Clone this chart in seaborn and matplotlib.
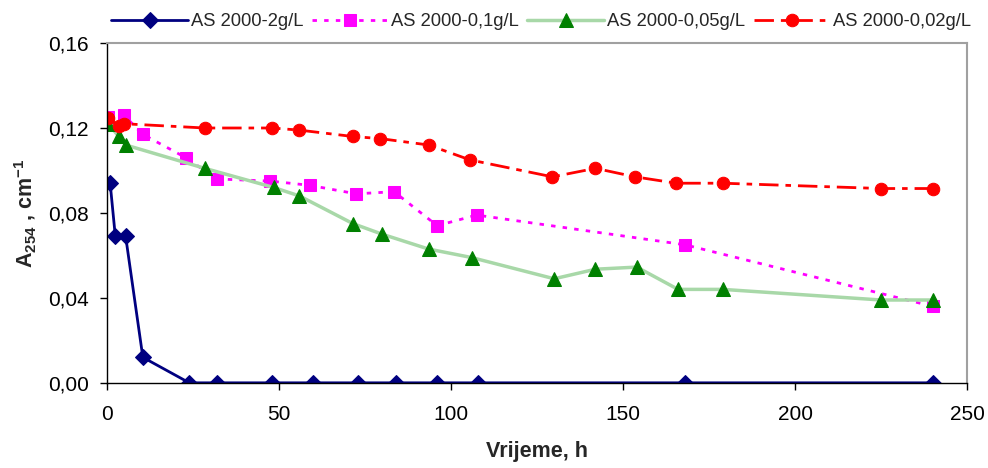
#!/usr/bin/env python3

import pandas as pd
import seaborn as sns
import matplotlib.pyplot as plt
from matplotlib.ticker import FuncFormatter

# AS 2000-2g/L
t_2 = [1, 2.5, 5.5, 10.5, 24, 32, 48, 60, 73, 84, 96, 108, 168, 240]
a_2 = [0.094, 0.069, 0.069, 0.012, 0.0, 0.0, 0.0, 0.0, 0.0, 0.0, 0.0, 0.0, 0.0, 0.0]

# AS 2000-0,1g/L
t_01 = [0.5, 5, 10.5, 23, 32, 47.5, 59, 72.5, 83.5, 96, 107.5, 168, 240]
a_01 = [0.125, 0.126, 0.117, 0.106, 0.096, 0.095, 0.093, 0.089, 0.090, 0.074, 0.079, 0.065, 0.036]

# AS 2000-0,05g/L
t_005 = [0.5, 3.5, 5.5, 28.5, 48.5, 56, 71.5, 80, 93.5, 106, 130, 142, 154, 166, 179, 225, 240]
a_005 = [0.122, 0.116, 0.112, 0.101, 0.092, 0.088, 0.075, 0.070, 0.063, 0.059,
         0.049, 0.0535, 0.0545, 0.044, 0.044, 0.039, 0.039]

# AS 2000-0,02g/L
t_002 = [0.5, 3.5, 5, 28.5, 48, 56, 71.5, 79.5, 93.5, 105.5, 129.5, 142, 153.5, 165.5, 179, 225, 240]
a_002 = [0.1245, 0.121, 0.122, 0.120, 0.120, 0.119, 0.116, 0.115, 0.112, 0.105,
         0.097, 0.101, 0.097, 0.094, 0.094, 0.0915, 0.0915]

sns.set_style("white")
plt.rcParams['font.family'] = ['Liberation Sans', 'DejaVu Sans']
plt.rcParams['mathtext.default'] = 'regular'

fig = plt.figure(figsize=(9.88, 4.68), dpi=100)
ax = fig.add_axes([0.108, 0.182, 0.871, 0.726])

sns.lineplot(x=t_2, y=a_2, ax=ax, color="#000080", lw=2, marker="D", markersize=8,
             markeredgecolor="#000080", markerfacecolor="#000080",
             errorbar=None, label="AS 2000-2g/L")
sns.lineplot(x=t_01, y=a_01, ax=ax, color="#ff00ff", lw=2, dashes=(1.6, 2.6), marker="s",
             markersize=9, markeredgecolor="#ff00ff", markerfacecolor="#ff00ff",
             errorbar=None, label="AS 2000-0,1g/L")
sns.lineplot(x=t_005, y=a_005, ax=ax, color="#a8d8a8", lw=2.5, marker="^", markersize=10,
             markeredgecolor="#008000", markerfacecolor="#008000",
             errorbar=None, label="AS 2000-0,05g/L")
sns.lineplot(x=t_002, y=a_002, ax=ax, color="#ff0000", lw=2, dashes=(7, 2.5, 2, 2.5), marker="o",
             markersize=9, markeredgecolor="#ff0000", markerfacecolor="#ff0000",
             errorbar=None, label="AS 2000-0,02g/L")

ax.set_xlim(0, 250)
ax.set_ylim(0, 0.16)
ax.set_xticks([0, 50, 100, 150, 200, 250])
ax.set_yticks([0, 0.04, 0.08, 0.12, 0.16])
ax.yaxis.set_major_formatter(FuncFormatter(lambda v, p: f"{v:.2f}".replace(".", ",")))
ax.tick_params(axis="both", labelsize=15, length=5, width=1, direction="out",
               bottom=True, left=True, colors="black")
ax.tick_params(axis="x", pad=11)
ax.tick_params(axis="y", pad=8)

for s in ["left", "bottom"]:
    ax.spines[s].set_color("black")
    ax.spines[s].set_linewidth(1)
for s in ["top", "right"]:
    ax.spines[s].set_color("#a0a0a0")
    ax.spines[s].set_linewidth(1.5)

ax.set_xlabel("Vrijeme, h", fontsize=15.5, fontweight="bold", labelpad=12)
ax.set_ylabel("A$_{254}$ , cm$^{-1}$", fontsize=15.5, fontweight="bold", labelpad=6)

ax.legend(loc="lower center", bbox_to_anchor=(0.505, 1.0), ncol=4, frameon=False,
          fontsize=13.2, handlelength=4.2, columnspacing=0.45, handletextpad=0.15,
          borderaxespad=0.3)

plt.savefig("out.png", dpi=100)
